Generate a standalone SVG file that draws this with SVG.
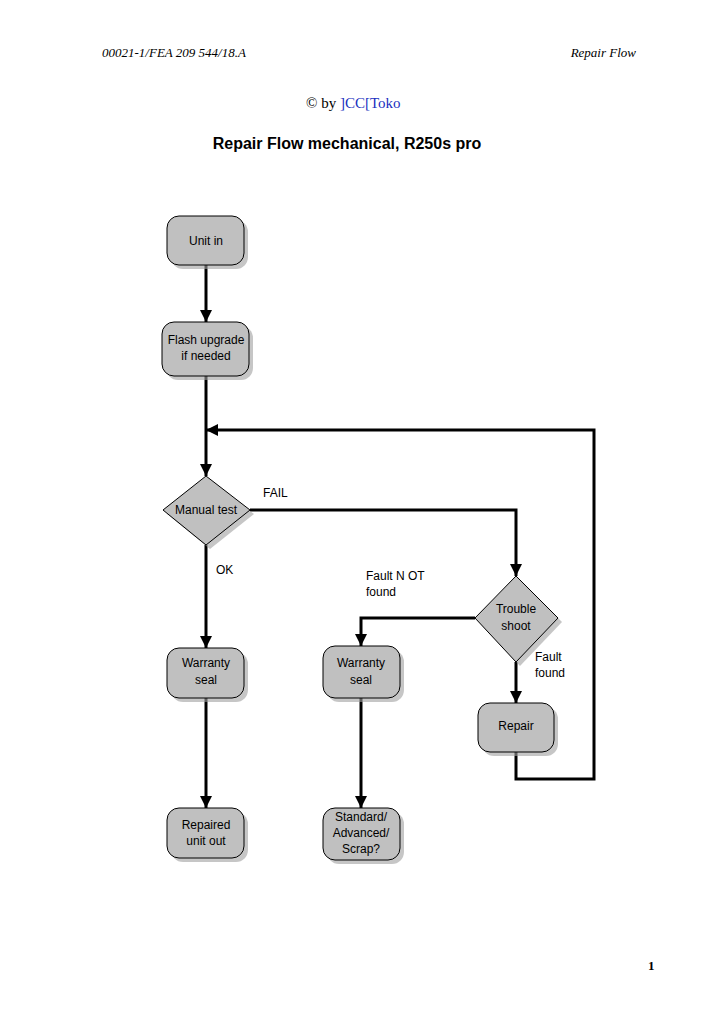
<svg xmlns="http://www.w3.org/2000/svg" width="719" height="1014" viewBox="0 0 719 1014">
<style>
.hd{font-family:"Liberation Serif",serif;font-style:italic;font-size:13px}
.n{fill:#c0c0c0;stroke:#000;stroke-width:1}
.sh{fill:#a0a0a0;opacity:0.6}
.t{font-family:"Liberation Sans",sans-serif;font-size:12px;text-anchor:middle;fill:#000}
.l{font-family:"Liberation Sans",sans-serif;font-size:12px;fill:#000}
.c{fill:none;stroke:#000;stroke-width:3;marker-end:url(#a)}
</style>
<defs><marker id="a" viewBox="0 0 10 10" refX="10" refY="5" markerWidth="4" markerHeight="4" markerUnits="strokeWidth" orient="auto"><path d="M0,0L10,5L0,10z"/></marker></defs>
<rect width="719" height="1014" fill="#fff"/>
<text class="hd" x="102" y="57">00021-1/FEA 209 544/18.A</text>
<text class="hd" x="636" y="57" text-anchor="end">Repair Flow</text>
<text x="306" y="108" font-family="Liberation Serif,serif" font-size="15">© by <tspan fill="#2030c0">]CC[Toko</tspan></text>
<text x="347" y="149" font-family="Liberation Sans,sans-serif" font-size="16" font-weight="bold" text-anchor="middle">Repair Flow mechanical, R250s pro</text>
<text x="648" y="970" font-family="Liberation Serif,serif" font-size="13" font-weight="bold">1</text>
<g id="connectors">
<path class="c" d="M206,265V322"/>
<path class="c" d="M206,376V476"/>
<path class="c" d="M206,545V648"/>
<path class="c" d="M206,698V808"/>
<path class="c" d="M250,510H516V576"/>
<path class="c" d="M475,618H361V646"/>
<path class="c" d="M361,698V808"/>
<path class="c" d="M516,662V703"/>
<path class="c" d="M516,752V779H594V430H206"/>
<text class="l" x="263" y="497">FAIL</text>
<text class="l" x="216" y="574">OK</text>
<text class="l" x="366" y="580">Fault N OT</text>
<text class="l" x="366" y="596">found</text>
<text class="l" x="535" y="661">Fault</text>
<text class="l" x="535" y="677">found</text>
</g>
<g id="unit-in"><rect class="sh" x="171" y="220" width="77" height="49" rx="12"/><rect class="n" x="167" y="216" width="77" height="49" rx="12"/><text class="t" x="206" y="245">Unit in</text></g>
<g id="flash"><rect class="sh" x="166" y="326" width="87" height="54" rx="12"/><rect class="n" x="162" y="322" width="87" height="54" rx="12"/><text class="t" x="206" y="344">Flash upgrade</text><text class="t" x="206" y="360">if needed</text></g>
<g id="manual-test"><path class="sh" d="M210,480L254,514L210,549L167,514z"/><path class="n" d="M206,476L250,510L206,545L163,510z"/><text class="t" x="206" y="514">Manual test</text></g>
<g id="trouble"><path class="sh" d="M520,580L562,622L520,666L479,622z"/><path class="n" d="M516,576L558,618L516,662L475,618z"/><text class="t" x="516" y="613">Trouble</text><text class="t" x="516" y="630">shoot</text></g>
<g id="warranty1"><rect class="sh" x="171" y="652" width="77" height="50" rx="12"/><rect class="n" x="167" y="648" width="77" height="50" rx="12"/><text class="t" x="206" y="667">Warranty</text><text class="t" x="206" y="684">seal</text></g>
<g id="warranty2"><rect class="sh" x="327" y="650" width="77" height="52" rx="12"/><rect class="n" x="323" y="646" width="77" height="52" rx="12"/><text class="t" x="361" y="667">Warranty</text><text class="t" x="361" y="684">seal</text></g>
<g id="repair"><rect class="sh" x="482" y="707" width="76" height="49" rx="12"/><rect class="n" x="478" y="703" width="76" height="49" rx="12"/><text class="t" x="516" y="730">Repair</text></g>
<g id="repaired"><rect class="sh" x="171" y="812" width="77" height="50" rx="12"/><rect class="n" x="167" y="808" width="77" height="50" rx="12"/><text class="t" x="206" y="829">Repaired</text><text class="t" x="206" y="845">unit out</text></g>
<g id="standard"><rect class="sh" x="327" y="812" width="77" height="52" rx="12"/><rect class="n" x="323" y="808" width="77" height="52" rx="12"/><text class="t" x="361" y="821">Standard/</text><text class="t" x="361" y="837">Advanced/</text><text class="t" x="361" y="853">Scrap?</text></g>
</svg>
